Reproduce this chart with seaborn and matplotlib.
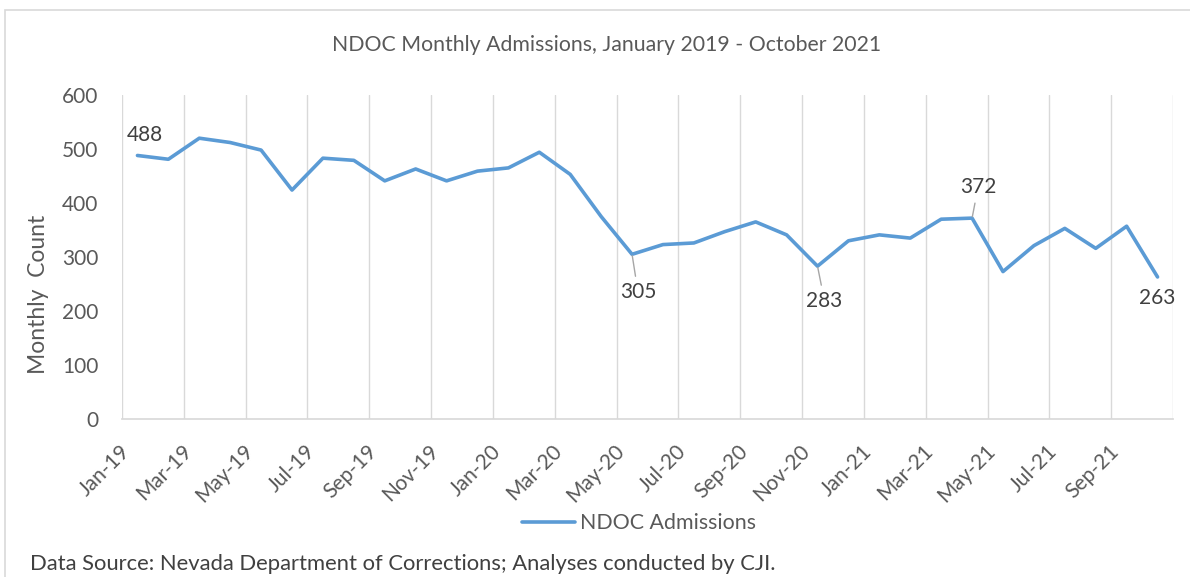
import numpy as np
import pandas as pd
import seaborn as sns
import matplotlib.pyplot as plt
from matplotlib.patches import Rectangle
from matplotlib.transforms import ScaledTranslation

months = ['Jan-19', 'Feb-19', 'Mar-19', 'Apr-19', 'May-19', 'Jun-19', 'Jul-19', 'Aug-19',
          'Sep-19', 'Oct-19', 'Nov-19', 'Dec-19', 'Jan-20', 'Feb-20', 'Mar-20', 'Apr-20',
          'May-20', 'Jun-20', 'Jul-20', 'Aug-20', 'Sep-20', 'Oct-20', 'Nov-20', 'Dec-20',
          'Jan-21', 'Feb-21', 'Mar-21', 'Apr-21', 'May-21', 'Jun-21', 'Jul-21', 'Aug-21',
          'Sep-21', 'Oct-21']
admissions = [488, 481, 520, 512, 498, 424, 483, 479, 441, 463, 441, 459,
              465, 494, 453, 375, 305, 323, 326, 347, 365, 341, 283, 330,
              341, 335, 370, 372, 273, 321, 353, 316, 357, 263]
labelled = ['Jan-19', 'May-20', 'Nov-20', 'Apr-21', 'Oct-21']

sns.set_theme(style='white')
plt.rcParams['font.family'] = ['Lato', 'DejaVu Sans']

df = pd.DataFrame({'month': months, 'count': admissions})
df['pos'] = np.arange(len(df))

W, H = 1190, 577
fig = plt.figure(figsize=(W / 100, H / 100), dpi=100)
ax = fig.add_axes([122 / W, (H - 419) / H, (1173 - 122) / W, (419 - 95) / H])

# chart area border
fig.patches.append(Rectangle((5 / W, -0.1), 1.2, 1 - 10 / H + 0.1, transform=fig.transFigure,
                             fill=False, edgecolor='#d9d9d9', linewidth=1.2))

sns.lineplot(data=df, x='pos', y='count', ax=ax, color='#5b9bd5', linewidth=2.6,
             label='NDOC Admissions', legend=False)

ax.set_xlim(-0.5, len(months) - 0.5)
ax.set_ylim(0, 600)
ax.set_yticks(range(0, 601, 100))
for xg in np.arange(-0.5, len(months), 2):
    ax.axvline(xg, color='#d9d9d9', linewidth=1, zorder=0)

ax.set_xticks(df['pos'][::2])
ax.set_xticklabels(df['month'][::2], rotation=45, ha='right', va='center',
                   rotation_mode='anchor')
ax.tick_params(axis='x', length=0, pad=21, labelsize=15, labelcolor='#595959')
ax.tick_params(axis='y', length=0, pad=17, labelsize=15, labelcolor='#595959')
for lab in ax.get_xticklabels():
    lab.set_transform(lab.get_transform() + ScaledTranslation(-0.11, 0, fig.dpi_scale_trans))

for s in ['top', 'right', 'left']:
    ax.spines[s].set_visible(False)
ax.spines['bottom'].set_color('#d9d9d9')
ax.set_xlabel('')
ax.set_ylabel('')

# data labels
offsets = {'Jan-19': (7, 20, False), 'May-20': (6, -38, True), 'Nov-20': (7, -35, True),
           'Apr-21': (6, 31, True), 'Oct-21': (0, -21, False)}
for m in labelled:
    row = df[df['month'] == m].iloc[0]
    dx, dy, leader = offsets[m]
    ax.annotate(str(row['count']), (row['pos'], row['count']), xytext=(dx, dy),
                textcoords='offset pixels', ha='center', va='center', fontsize=15,
                color='#404040',
                arrowprops=dict(arrowstyle='-', color='#a6a6a6', lw=1, shrinkA=2, shrinkB=1)
                if leader else None)

fig.text(607 / W, 1 - 45 / H, 'NDOC Monthly Admissions, January 2019 - October 2021',
         ha='center', va='center', fontsize=15.3, color='#595959')
fig.text(39 / W, 1 - 294 / H, 'Monthly  Count', rotation=90, ha='center', va='center',
         fontsize=16.5, color='#595959')
fig.text(30 / W, 1 - 564 / H, 'Data Source: Nevada Department of Corrections; Analyses conducted by CJI.',
         ha='left', va='center', fontsize=15.8, color='#404040')

handles, labels = ax.get_legend_handles_labels()
fig.legend(handles, labels, loc='center', bbox_to_anchor=(639 / W, 1 - 523 / H), frameon=False,
           fontsize=15.4, labelcolor='#595959', handlelength=2.5, handletextpad=0.25)

fig.savefig('out.png', dpi=100)
